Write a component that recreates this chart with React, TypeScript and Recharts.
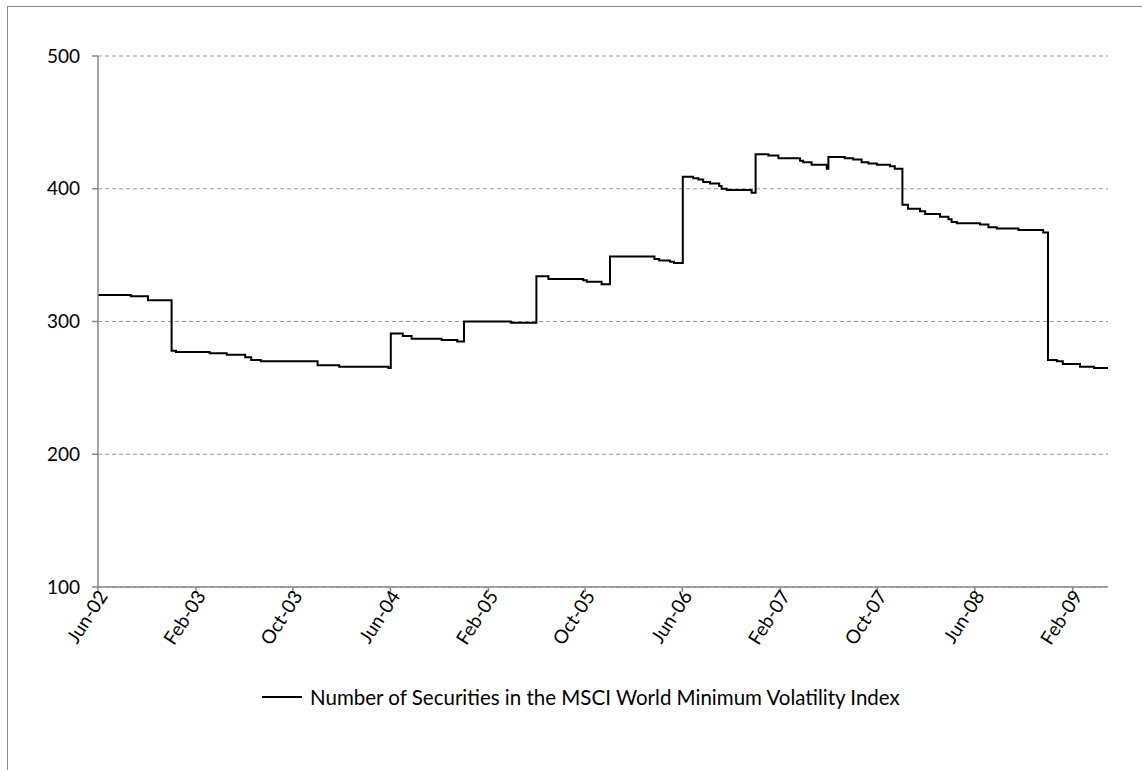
import React from "react";
import { LineChart, Line, XAxis, YAxis, CartesianGrid, Legend } from "recharts";

const stepDates: string[] = [
  "2002-06-01", "2002-08-22", "2002-10-04", "2002-12-02", "2002-12-13", "2003-03-07",
  "2003-04-19", "2003-06-04", "2003-06-19", "2003-07-13", "2003-12-02", "2004-01-25",
  "2004-05-27", "2004-06-02", "2004-07-02", "2004-07-24", "2004-10-07", "2004-11-15",
  "2004-12-02", "2005-03-29", "2005-06-01", "2005-07-01", "2005-09-26", "2005-10-05",
  "2005-11-11", "2005-12-02", "2006-03-23", "2006-04-04", "2006-05-01", "2006-05-11",
  "2006-06-02", "2006-06-28", "2006-07-11", "2006-07-23", "2006-08-09", "2006-09-01",
  "2006-09-07", "2006-09-20", "2006-11-21", "2006-12-01", "2007-01-02", "2007-01-27",
  "2007-03-22", "2007-03-30", "2007-04-20", "2007-05-28", "2007-06-01", "2007-07-12",
  "2007-08-02", "2007-08-23", "2007-09-09", "2007-09-30", "2007-11-02", "2007-11-14",
  "2007-12-03", "2007-12-17", "2008-01-16", "2008-01-29", "2008-03-06", "2008-03-27",
  "2008-04-04", "2008-04-17", "2008-06-14", "2008-07-05", "2008-07-26", "2008-09-18",
  "2008-11-19", "2008-12-01", "2008-12-23", "2009-01-07", "2009-02-19", "2009-03-26",
  "2009-04-30",
];

const securityCounts: number[] = [
  320, 319, 316, 278, 277, 276,
  275, 273, 271, 270, 267, 266,
  265, 291, 289, 287, 286, 285,
  300, 299, 334, 332, 331, 330,
  328, 349, 347, 346, 345, 344,
  409, 408, 407, 405, 404, 402,
  400, 399, 397, 426, 425, 423,
  421, 420, 418, 415, 424, 423,
  422, 420, 419, 418, 417, 415,
  388, 385, 383, 381, 379, 377,
  375, 374, 373, 371, 370, 369,
  367, 271, 270, 268, 266, 265,
  265,
];

const tickDates: string[] = [
  "2002-06-01", "2003-02-01", "2003-10-01", "2004-06-01", "2005-02-01", "2005-10-01",
  "2006-06-01", "2007-02-01", "2007-10-01", "2008-06-01", "2009-02-01",
];

const yTicks: number[] = [100, 200, 300, 400, 500];

const seriesName = "Number of Securities in the MSCI World Minimum Volatility Index";
const monthNames = ["Jan", "Feb", "Mar", "Apr", "May", "Jun", "Jul", "Aug", "Sep", "Oct", "Nov", "Dec"];

const toTime = (s: string) => {
  const [y, m, d] = s.split("-").map(Number);
  return Date.UTC(y, m - 1, d);
};

const data = stepDates.map((d, i) => ({ t: toTime(d), v: securityCounts[i] }));
const xTicks = tickDates.map(toTime);

const fmtTick = (t: number) => {
  const dt = new Date(t);
  return `${monthNames[dt.getUTCMonth()]}-${String(dt.getUTCFullYear() % 100).padStart(2, "0")}`;
};

const FONT = "Lato, 'Open Sans', sans-serif";

const XTick = (props: any) => {
  const { x, y, payload } = props;
  return (
    <text
      x={x}
      y={y}
      dy={10}
      dx={4}
      textAnchor="end"
      fill="#000"
      fontSize={19}
      fontFamily={FONT}
      transform={`rotate(-57, ${x}, ${y})`}
    >
      {fmtTick(payload.value)}
    </text>
  );
};

const LegendContent = () => (
  <div style={{ display: "flex", alignItems: "center", height: 24, fontFamily: FONT, fontSize: 20.5, color: "#000" }}>
    <svg width={40} height={24}>
      <line x1={0} y1={12} x2={40} y2={12} stroke="#000" strokeWidth={2} />
    </svg>
    <span style={{ marginLeft: 8, whiteSpace: "nowrap" }}>{seriesName}</span>
  </div>
);

export default function App() {
  return (
    <div style={{ position: "absolute", left: 0, top: 0, width: 1142, height: 770, background: "#fff", overflow: "hidden" }}>
      <div
        style={{
          position: "absolute",
          left: 7,
          top: 6,
          width: 1200,
          height: 800,
          borderLeft: "1.5px solid #888",
          borderTop: "1.5px solid #888",
        }}
      />
      <div style={{ position: "absolute", left: 0, top: 0 }}>
        <LineChart width={1142} height={770} data={data} margin={{ top: 56, right: 34, bottom: 61, left: 0 }}>
          <CartesianGrid vertical={false} stroke="#999" strokeDasharray="4 3" />
          <XAxis
            dataKey="t"
            type="number"
            scale="time"
            domain={[toTime("2002-06-01"), toTime("2009-04-30")]}
            ticks={xTicks}
            tick={<XTick />}
            interval={0}
            height={98}
            axisLine={{ stroke: "#888", strokeWidth: 1.5 }}
            tickLine={{ stroke: "#888", strokeWidth: 1.5 }}
            tickSize={5}
            allowDataOverflow
          />
          <YAxis
            domain={[100, 500]}
            ticks={yTicks}
            width={98}
            interval={0}
            axisLine={{ stroke: "#888", strokeWidth: 1.5 }}
            tickLine={{ stroke: "#888", strokeWidth: 1.5 }}
            tickSize={6}
            tickMargin={12}
            tick={{ fill: "#000", fontSize: 19, fontFamily: FONT }}
          />
          <Legend
            verticalAlign="bottom"
            height={24}
            content={<LegendContent />}
            wrapperStyle={{ left: 262, width: 800 }}
          />
          <Line
            type="stepAfter"
            dataKey="v"
            name={seriesName}
            stroke="#000"
            strokeWidth={2}
            dot={false}
            isAnimationActive={false}
          />
        </LineChart>
      </div>
    </div>
  );
}
